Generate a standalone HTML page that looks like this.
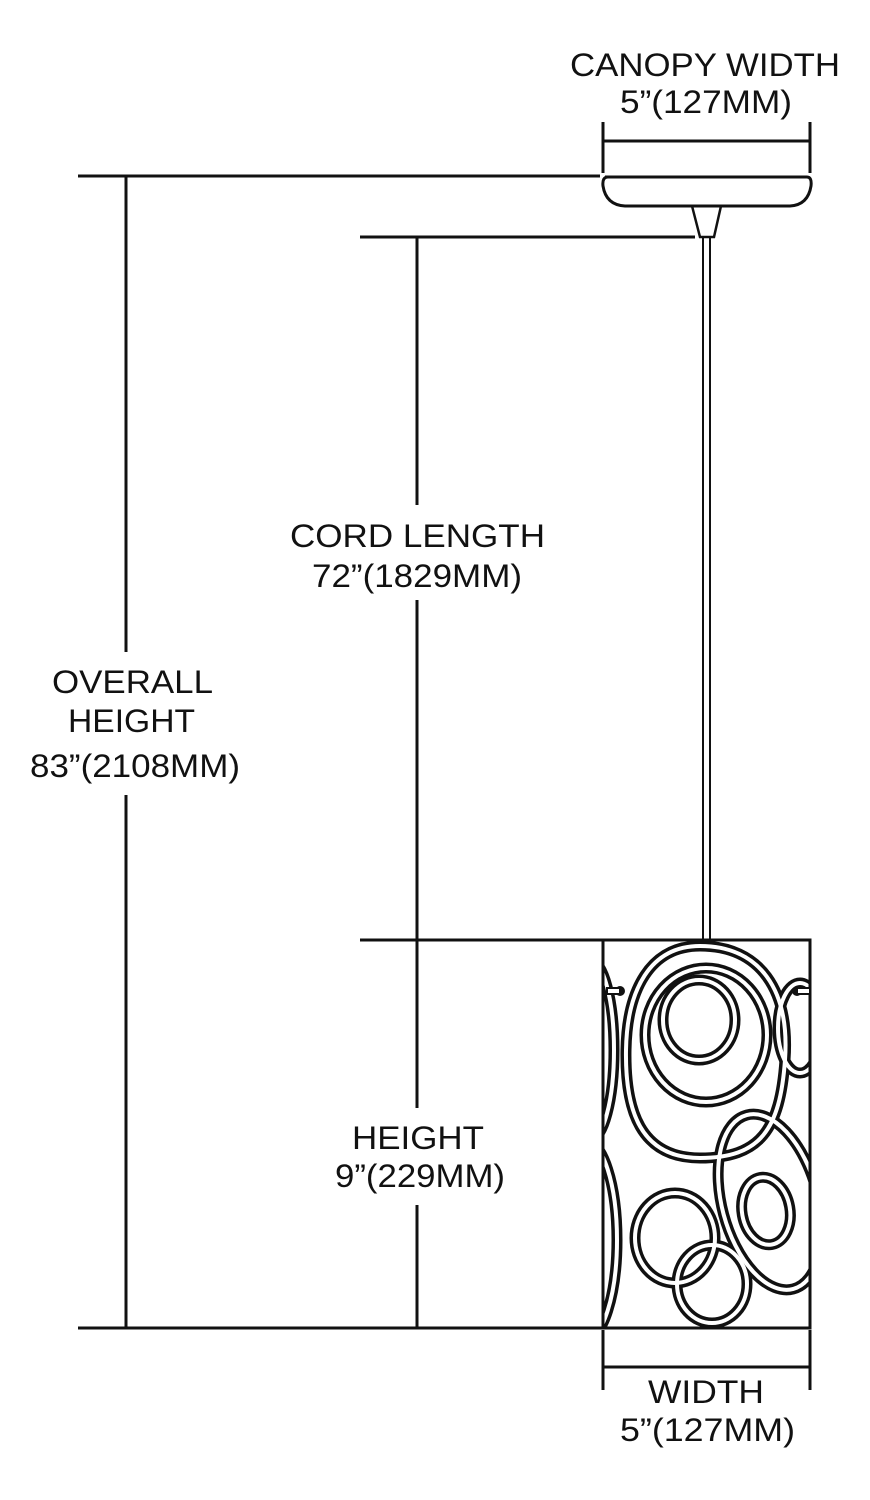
<!DOCTYPE html>
<html><head><style>html,body{margin:0;padding:0;background:#fff}svg{display:block}</style></head>
<body>
<svg width="870" height="1500" viewBox="0 0 870 1500" xmlns="http://www.w3.org/2000/svg">
<g stroke="#111" stroke-width="3" fill="none">
<line x1="78" y1="176" x2="600" y2="176"/>
<line x1="78" y1="1328" x2="603" y2="1328"/>
<line x1="126" y1="176" x2="126" y2="652"/>
<line x1="126" y1="795" x2="126" y2="1328"/>
<line x1="360" y1="237" x2="695" y2="237"/>
<line x1="360" y1="940" x2="603" y2="940"/>
<line x1="417" y1="237" x2="417" y2="505"/>
<line x1="417" y1="600" x2="417" y2="1108"/>
<line x1="417" y1="1205" x2="417" y2="1328"/>
<line x1="603" y1="122" x2="603" y2="173"/>
<line x1="810" y1="122" x2="810" y2="173"/>
<line x1="603" y1="141" x2="810" y2="141"/>
<line x1="603" y1="1330" x2="603" y2="1390"/>
<line x1="810" y1="1330" x2="810" y2="1390"/>
<line x1="603" y1="1367" x2="810" y2="1367"/>
<path d="M605 177 H807 Q812 177 811 186 Q808 205 790 206 H625 Q606 205 603 186 Q602 177 608 177 Z"/>
<path d="M692 206 L700 237 H714 L721 206" stroke-width="2.5"/>
<line x1="703" y1="237" x2="703" y2="940" stroke-width="2"/>
<line x1="710" y1="237" x2="710" y2="940" stroke-width="2"/>
</g>
<defs><clipPath id="c"><rect x="604" y="941" width="205" height="386"/></clipPath></defs>
<g clip-path="url(#c)" fill="none">
<g stroke="#111" stroke-width="11">
<path d="M700 946 C760 946 790 990 785 1060 C780 1130 760 1158 700 1158 C640 1158 625 1110 626 1050 C627 990 650 946 700 946 Z"/>
<ellipse cx="706" cy="1035" rx="61" ry="67"/>
<ellipse cx="699" cy="1020" rx="36" ry="40"/>
<ellipse cx="770" cy="1202" rx="48" ry="90" transform="rotate(-15 770 1202)"/>
<ellipse cx="766" cy="1211" rx="24" ry="34" transform="rotate(-10 766 1211)"/>
<ellipse cx="675" cy="1238" rx="40" ry="45"/>
<ellipse cx="712" cy="1284" rx="35" ry="39"/>
<ellipse cx="800" cy="1028" rx="22" ry="45"/>
<ellipse cx="590" cy="1050" rx="24" ry="90"/>
<ellipse cx="585" cy="1240" rx="32" ry="100"/>
</g>
<g stroke="#fff" stroke-width="4">
<path d="M700 946 C760 946 790 990 785 1060 C780 1130 760 1158 700 1158 C640 1158 625 1110 626 1050 C627 990 650 946 700 946 Z"/>
<ellipse cx="706" cy="1035" rx="61" ry="67"/>
<ellipse cx="699" cy="1020" rx="36" ry="40"/>
<ellipse cx="770" cy="1202" rx="48" ry="90" transform="rotate(-15 770 1202)"/>
<ellipse cx="766" cy="1211" rx="24" ry="34" transform="rotate(-10 766 1211)"/>
<ellipse cx="675" cy="1238" rx="40" ry="45"/>
<ellipse cx="712" cy="1284" rx="35" ry="39"/>
<ellipse cx="800" cy="1028" rx="22" ry="45"/>
<ellipse cx="590" cy="1050" rx="24" ry="90"/>
<ellipse cx="585" cy="1240" rx="32" ry="100"/>
</g>
</g>
<rect x="603" y="940" width="207" height="388" fill="none" stroke="#111" stroke-width="3"/>
<g fill="#111"><circle cx="620" cy="991" r="5"/><circle cx="797" cy="991" r="5"/></g>
<g stroke="#111" stroke-width="2" fill="#fff"><rect x="607" y="988" width="13" height="6"/><rect x="797" y="988" width="13" height="6"/></g>
<g font-family="Liberation Sans, sans-serif" font-size="32" fill="#111" lengthAdjust="spacingAndGlyphs">
<text x="570" y="76" textLength="270" lengthAdjust="spacingAndGlyphs">CANOPY WIDTH</text>
<text x="620" y="113" textLength="172" lengthAdjust="spacingAndGlyphs">5”(127MM)</text>
<text x="290" y="547" textLength="255" lengthAdjust="spacingAndGlyphs">CORD LENGTH</text>
<text x="312" y="587" textLength="210" lengthAdjust="spacingAndGlyphs">72”(1829MM)</text>
<text x="52" y="693" textLength="161" lengthAdjust="spacingAndGlyphs">OVERALL</text>
<text x="68" y="732" textLength="127" lengthAdjust="spacingAndGlyphs">HEIGHT</text>
<text x="30" y="777" textLength="210" lengthAdjust="spacingAndGlyphs">83”(2108MM)</text>
<text x="352" y="1149" textLength="132" lengthAdjust="spacingAndGlyphs">HEIGHT</text>
<text x="335" y="1187" textLength="170" lengthAdjust="spacingAndGlyphs">9”(229MM)</text>
<text x="648" y="1403" textLength="116" lengthAdjust="spacingAndGlyphs">WIDTH</text>
<text x="620" y="1441" textLength="175" lengthAdjust="spacingAndGlyphs">5”(127MM)</text>
</g>
</svg>
</body></html>
